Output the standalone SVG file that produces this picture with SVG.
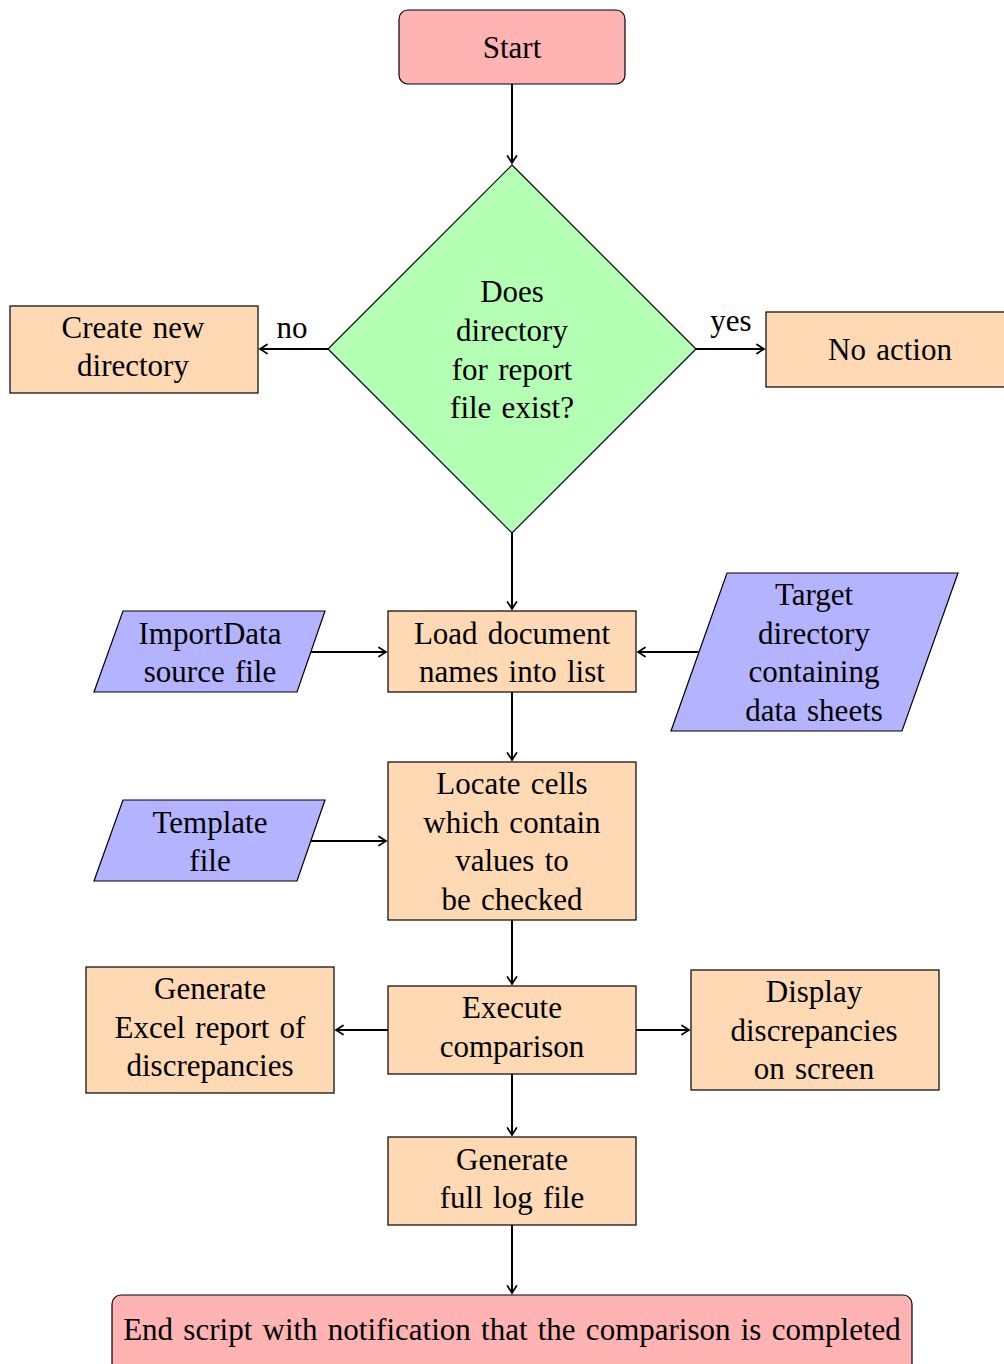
<svg xmlns="http://www.w3.org/2000/svg" width="1004" height="1364" viewBox="0 0 1004 1364">
  <style>
    .term { fill: #ffb3b3; stroke: #000; stroke-width: 1.2; }
    .dec { fill: #b3ffb3; stroke: #000; stroke-width: 1.2; }
    .proc { fill: #ffd9b3; stroke: #000; stroke-width: 1.2; }
    .io { fill: #b3b3ff; stroke: #000; stroke-width: 1.2; }
    text { font-family: "Liberation Serif", "Times New Roman", serif; font-size: 31px; word-spacing: 2.5px; fill: #000; text-anchor: middle; }
    .edge { fill: none; stroke: #000; stroke-width: 2; marker-end: url(#to); }
  </style>
  <defs>
    <marker id="to" markerUnits="userSpaceOnUse" viewBox="-9 -6 11 12" refX="0" refY="0" markerWidth="11" markerHeight="12" orient="auto">
      <path d="M -7 -4.5 Q -2.5 -1.5 0 0 Q -2.5 1.5 -7 4.5" fill="none" stroke="#000" stroke-width="1.7" stroke-linecap="round"/>
    </marker>
  </defs>

  <!-- connectors -->
  <g id="connectors">
    <path class="edge" d="M512 84 V163"/>
    <path class="edge" d="M328 349 H260"/>
    <path class="edge" d="M696 349 H764"/>
    <path class="edge" d="M512 533 V609"/>
    <path class="edge" d="M311 652 H386"/>
    <path class="edge" d="M699 652 H638"/>
    <path class="edge" d="M512 692 V760"/>
    <path class="edge" d="M311 841 H386"/>
    <path class="edge" d="M512 920 V984"/>
    <path class="edge" d="M388 1030 H336"/>
    <path class="edge" d="M636 1030 H689"/>
    <path class="edge" d="M512 1074 V1135"/>
    <path class="edge" d="M512 1225 V1293"/>
    <text x="292" y="338">no</text>
    <text x="731" y="331">yes</text>
  </g>

  <g id="start">
    <rect class="term" x="399" y="10" width="226" height="74" rx="9"/>
    <text x="512" y="58">Start</text>
  </g>

  <g id="dir-exists">
    <polygon class="dec" points="512,165 696,349 512,533 328,349"/>
    <text x="512" y="302">Does</text>
    <text x="512" y="341">directory</text>
    <text x="512" y="380">for report</text>
    <text x="512" y="418">file exist?</text>
  </g>

  <g id="create-dir">
    <rect class="proc" x="10" y="306" width="248" height="87"/>
    <text x="133" y="338">Create new</text>
    <text x="133" y="376">directory</text>
  </g>

  <g id="no-action">
    <rect class="proc" x="766" y="312" width="248" height="75"/>
    <text x="890" y="360">No action</text>
  </g>

  <g id="import-data">
    <polygon class="io" points="123,611 325,611 297,692 94,692"/>
    <text x="210" y="644">ImportData</text>
    <text x="210" y="682">source file</text>
  </g>

  <g id="load-names">
    <rect class="proc" x="388" y="611" width="248" height="81"/>
    <text x="512" y="644">Load document</text>
    <text x="512" y="682">names into list</text>
  </g>

  <g id="target-dir">
    <polygon class="io" points="727,573 958,573 902,731 671,731"/>
    <text x="814" y="605">Target</text>
    <text x="814" y="644">directory</text>
    <text x="814" y="682">containing</text>
    <text x="814" y="721">data sheets</text>
  </g>

  <g id="template">
    <polygon class="io" points="123,800 325,800 297,881 94,881"/>
    <text x="210" y="833">Template</text>
    <text x="210" y="871">file</text>
  </g>

  <g id="locate-cells">
    <rect class="proc" x="388" y="762" width="248" height="158"/>
    <text x="512" y="794">Locate cells</text>
    <text x="512" y="833">which contain</text>
    <text x="512" y="871">values to</text>
    <text x="512" y="910">be checked</text>
  </g>

  <g id="excel-report">
    <rect class="proc" x="86" y="967" width="248" height="126"/>
    <text x="210" y="999">Generate</text>
    <text x="210" y="1038">Excel report of</text>
    <text x="210" y="1076">discrepancies</text>
  </g>

  <g id="execute">
    <rect class="proc" x="388" y="986" width="248" height="88"/>
    <text x="512" y="1018">Execute</text>
    <text x="512" y="1057">comparison</text>
  </g>

  <g id="display">
    <rect class="proc" x="691" y="970" width="248" height="120"/>
    <text x="814" y="1002">Display</text>
    <text x="814" y="1041">discrepancies</text>
    <text x="814" y="1079">on screen</text>
  </g>

  <g id="log-file">
    <rect class="proc" x="388" y="1137" width="248" height="88"/>
    <text x="512" y="1170">Generate</text>
    <text x="512" y="1208">full log file</text>
  </g>

  <g id="end">
    <rect class="term" x="112" y="1295" width="800" height="80" rx="9"/>
    <text x="512" y="1340">End script with notification that the comparison is completed</text>
  </g>
</svg>
